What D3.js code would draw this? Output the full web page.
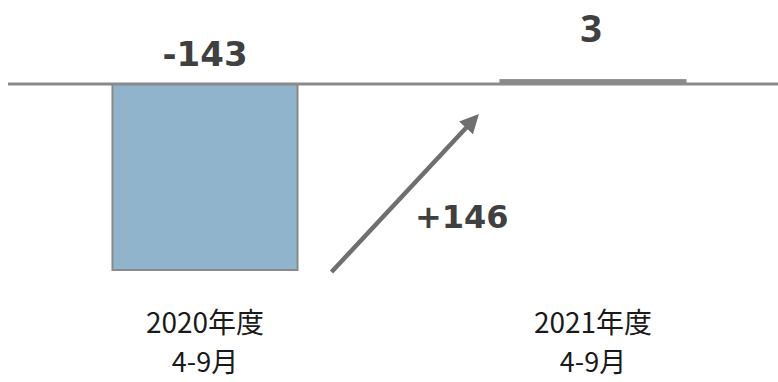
<!DOCTYPE html>
<html><head><meta charset="utf-8">
<script src="https://cdn.jsdelivr.net/npm/d3@7"></script>
<style>body{margin:0;background:#fff}svg{display:block}</style>
</head><body>
<svg id="c" width="778" height="382"></svg>
<script>
const categories = ["2020年度", "2021年度"];
const subLabels = ["4-9月", "4-9月"];
const values = [-143, 3];
const valueLabels = ["-143", "3"];
const diffLabel = "+146";

const svg = d3.select("#c");
const x = d3.scaleBand().domain(categories).range([11, 787]).paddingInner(0.523).paddingOuter(0.2615);
const y = d3.scaleLinear().domain([-143, 0]).range([270, 84]);

const colors = ["#8fb4cb", "#8a8a8a"];

// bars
svg.selectAll("rect.bar").data(values).join("rect")
  .attr("x", (d, i) => x(categories[i]))
  .attr("width", x.bandwidth())
  .attr("y", d => y(Math.max(0, d)))
  .attr("height", d => Math.abs(y(d) - y(0)))
  .attr("fill", (d, i) => colors[i])
  .attr("stroke", "#8a8a8a")
  .attr("stroke-width", 2);

// zero line
svg.append("line").attr("x1", 8).attr("x2", 778).attr("y1", y(0)).attr("y2", y(0))
  .attr("stroke", "#8a8a8a").attr("stroke-width", 3);

// value labels
svg.append("text")
  .attr("x", x(categories[0]) + x.bandwidth() / 2)
  .attr("y", 66)
  .attr("text-anchor", "middle")
  .attr("font-family", "DejaVu Sans")
  .attr("font-weight", "bold")
  .attr("font-size", 34)
  .attr("fill", "#404040")
  .text(valueLabels[0]);
svg.append("text")
  .attr("x", x(categories[1]) + x.bandwidth() / 2 - 2)
  .attr("y", 42)
  .attr("text-anchor", "middle")
  .attr("font-family", "Open Sans")
  .attr("font-weight", "bold")
  .attr("font-size", 38)
  .attr("fill", "#404040")
  .text(valueLabels[1]);

// arrow
const defs = svg.append("defs");
defs.append("marker").attr("id", "ah").attr("viewBox", "0 0 10 10").attr("refX", 5).attr("refY", 5)
  .attr("markerWidth", 4.2).attr("markerHeight", 4.2).attr("orient", "auto")
  .append("path").attr("d", "M0,0 L10,5 L0,10 z").attr("fill", "#6f6f6f");
const x0 = x(categories[0]) + x.bandwidth() + 34;
const x1 = x(categories[1]) - 28;
svg.append("line").attr("x1", x0).attr("y1", y(-143) + 2).attr("x2", x1).attr("y2", y(0) + 37)
  .attr("stroke", "#6f6f6f").attr("stroke-width", 4.5).attr("marker-end", "url(#ah)");

svg.append("text").attr("x", 415).attr("y", 228)
  .attr("font-family", "DejaVu Sans").attr("font-weight", "bold").attr("font-size", 32)
  .attr("fill", "#404040").text(diffLabel);

// category labels
svg.selectAll("text.cat").data(categories).join("text")
  .attr("x", d => x(d) + x.bandwidth() / 2)
  .attr("y", 333)
  .attr("text-anchor", "middle")
  .attr("font-family", "Noto Sans CJK JP")
  .attr("font-size", 28)
  .attr("fill", "#1a1a1a")
  .text(d => d);
svg.selectAll("text.sub").data(subLabels).join("text")
  .attr("x", (d, i) => x(categories[i]) + x.bandwidth() / 2)
  .attr("y", 372)
  .attr("text-anchor", "middle")
  .attr("font-family", "Noto Sans CJK JP")
  .attr("font-size", 27)
  .attr("fill", "#1a1a1a")
  .text(d => d);
</script>
</body></html>
